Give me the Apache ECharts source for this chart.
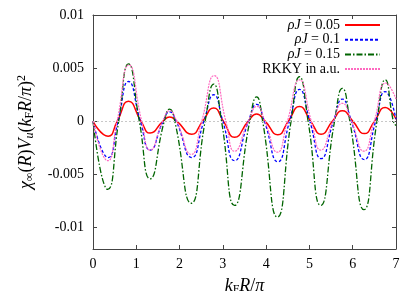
<!DOCTYPE html>
<html><head><meta charset="utf-8">
<script src="https://cdn.jsdelivr.net/npm/echarts@6/dist/echarts.min.js"></script>
<style>html,body{margin:0;padding:0;background:#fff}#c{width:415px;height:291px}</style>
</head><body><div id="c"></div>
<script>
const xTicks = [0, 1, 2, 3, 4, 5, 6, 7];
const yTicks = [-0.01, -0.005, 0, 0.005, 0.01];
const seriesNames = ['ρJ = 0.05', 'ρJ = 0.1', 'ρJ = 0.15', 'RKKY in a.u.'];

const redX = [0, 0.35, 0.56, 0.82, 1.11, 1.32, 1.615, 1.77, 1.94, 2.28, 2.53, 2.79, 3.016, 3.27, 3.585, 3.78, 3.98, 4.27, 4.51, 4.77, 5.03, 5.27, 5.53, 5.76, 6.005, 6.27, 6.50, 6.75, 7.0];
const redY = [0, -0.0014, 0, 0.0019, 0, -0.0011, 0, 0.0004, 0, -0.0012, 0, 0.00125, 0, -0.0015, 0, 0.0007, 0, -0.00125, 0, 0.0014, 0, -0.0012, 0, 0.001, 0, -0.00115, 0, 0.0013, 0.0002];

const blueX = [0, 0.35, 0.578, 0.82, 1.095, 1.32, 1.62, 1.77, 1.923, 2.28, 2.56, 2.79, 3.0, 3.27, 3.59, 3.78, 3.96, 4.27, 4.54, 4.77, 5.01, 5.27, 5.555, 5.76, 5.97, 6.27, 6.53, 6.75, 7.0];
const blueY = [0, -0.0034, 0, 0.00375, 0, -0.0027, 0, 0.0009, 0, -0.0034, 0, 0.0025, 0, -0.0037, 0, 0.0016, 0, -0.0038, 0, 0.003, 0, -0.0035, 0, 0.0021, 0, -0.0036, 0, 0.0028, 0.0002];

const greenX = [0, 0.34, 0.593, 0.82, 1.07, 1.32, 1.646, 1.77, 1.89, 2.27, 2.59, 2.79, 2.97, 3.27, 3.62, 3.78, 3.92, 4.26, 4.575, 4.77, 4.97, 5.26, 5.58, 5.76, 5.935, 6.26, 6.56, 6.75, 6.94, 7.0];
const greenY = [0, -0.0064, 0, 0.0054, 0, -0.0054, 0, 0.00116, 0, -0.0077, 0, 0.0035, 0, -0.0079, 0, 0.0023, 0, -0.009, 0, 0.0042, 0, -0.0079, 0, 0.0031, 0, -0.0083, 0, 0.0039, 0, -0.0004];

const pinkX = [0, 0.34, 0.555, 0.83, 1.126, 1.32, 1.61, 1.77, 1.935, 2.27, 2.51, 2.8, 3.07, 3.27, 3.587, 3.79, 3.972, 4.26, 4.49, 4.77, 5.045, 5.26, 5.547, 5.76, 5.97, 6.26, 6.495, 6.77, 7.0];
const pinkY = [0, -0.0037, 0, 0.0053, 0, -0.0027, 0, 0.001, 0, -0.0031, 0, 0.0043, 0, -0.0028, 0, 0.0014, 0, -0.0029, 0, 0.0039, 0, -0.0027, 0, 0.0017, 0, -0.0028, 0, 0.0036, 0.0021];

const zip = (xs, ys) => xs.map((x, i) => [x, ys[i]]);
const FONT = 'Liberation Serif';
const BORDER = '#444';

const rich = {
  i: {fontFamily: FONT, fontStyle: 'italic', fontSize: 18, color: '#000', lineHeight: 20},
  n: {fontFamily: FONT, fontSize: 18, color: '#000', lineHeight: 20},
  sub: {fontFamily: FONT, fontSize: 12, color: '#000', lineHeight: 11, verticalAlign: 'bottom'},
  subi: {fontFamily: FONT, fontStyle: 'italic', fontSize: 12, color: '#000', lineHeight: 11, verticalAlign: 'bottom'},
  sup: {fontFamily: FONT, fontSize: 12, color: '#000', lineHeight: 11, verticalAlign: 'top'}
};

const legendRich = {
  i: {fontFamily: FONT, fontStyle: 'italic', fontSize: 14, color: '#000', lineHeight: 12},
  n: {fontFamily: FONT, fontSize: 14, color: '#000', lineHeight: 12}
};

const tickLen = 4;
const baseAxis = {
  axisLine: {show: true, onZero: false, lineStyle: {color: BORDER, width: 1}},
  splitLine: {show: false}
};

const styles = [
  {color: '#ff0000', width: 1.5, type: 'solid'},
  {color: '#0000ff', width: 1.3, type: [3, 2]},
  {color: '#006400', width: 1.3, type: [6, 2, 1.5, 2]},
  {color: '#ff69c0', width: 1.2, type: [2, 1]}
];
const datas = [zip(redX, redY), zip(blueX, blueY), zip(greenX, greenY), zip(pinkX, pinkY)];

const series = seriesNames.map((name, k) => {
  const s = {
    name, type: 'line', data: datas[k], smooth: 0.55, symbol: 'none',
    lineStyle: styles[k], itemStyle: {color: styles[k].color}, animation: false, z: 2 + k
  };
  if (k === 0) {
    s.markLine = {
      silent: true, symbol: 'none', label: {show: false},
      lineStyle: {color: '#c8c8c8', type: [2, 2], width: 1},
      data: [{yAxis: 0}]
    };
  }
  return s;
});

const chart = echarts.init(document.getElementById('c'), null, {renderer: 'canvas'});
chart.setOption({
  animation: false,
  backgroundColor: '#fff',
  grid: {left: 93, right: 19, top: 15, bottom: 42, containLabel: false, outerBoundsMode: 'none'},
  legend: {
    right: 34, top: 18, padding: 0, orient: 'vertical', align: 'right',
    itemWidth: 35, itemHeight: 12, itemGap: 0.7,
    data: seriesNames,
    itemStyle: {opacity: 0},
    formatter: function (name) {
      if (name.indexOf('ρJ') === 0) return '{i|ρJ}{n|' + name.slice(2) + '}';
      return '{n|' + name + '}';
    },
    textStyle: {rich: legendRich, fontFamily: FONT, fontSize: 14, lineHeight: 12}
  },
  xAxis: [
    Object.assign({}, baseAxis, {
      type: 'value', min: 0, max: 7, interval: 1, position: 'bottom',
      axisTick: {show: true, inside: true, length: tickLen, lineStyle: {color: BORDER}},
      axisLabel: {show: true, fontFamily: FONT, fontSize: 14, color: '#000', margin: 8},
      name: '{i|k}{sub|F}{i|R}{n|/}{i|π}', nameLocation: 'middle', nameGap: 27,
      nameTextStyle: {rich: rich}
    }),
    Object.assign({}, baseAxis, {
      type: 'value', min: 0, max: 7, interval: 1, position: 'top',
      axisTick: {show: true, inside: true, length: tickLen, lineStyle: {color: BORDER}},
      axisLabel: {show: false}
    })
  ],
  yAxis: [
    Object.assign({}, baseAxis, {
      type: 'value', min: -0.012, max: 0.01, position: 'left',
      axisTick: {show: true, inside: true, length: tickLen, customValues: yTicks, lineStyle: {color: BORDER}},
      axisLabel: {show: true, customValues: yTicks, fontFamily: FONT, fontSize: 14, color: '#000', margin: 9,
        formatter: v => String(+v.toFixed(4))},
      name: '{i|χ}{sub|∞}{n|(}{i|R}{n|)}{i|V}{subi|u}{n|(}{i|k}{sub|F}{i|R}{n|/}{i|π}{n|)}{sup|2}',
      nameLocation: 'middle', nameGap: 57, nameRotate: 90,
      nameTextStyle: {rich: rich}
    }),
    Object.assign({}, baseAxis, {
      type: 'value', min: -0.012, max: 0.01, position: 'right',
      axisTick: {show: true, inside: true, length: tickLen, customValues: yTicks, lineStyle: {color: BORDER}},
      axisLabel: {show: false}
    })
  ],
  series: series
});
</script>
</body></html>
